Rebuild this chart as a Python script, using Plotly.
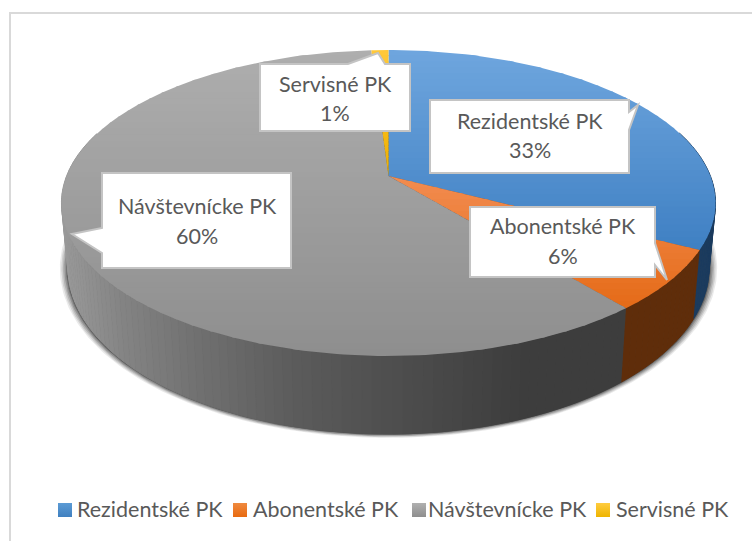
import numpy as np
import plotly.graph_objects as go

categories = ["Rezidentské PK", "Abonentské PK", "Návštevnícke PK", "Servisné PK"]
shares = [32.6, 6.4, 60.0, 1.0]
top_light = ["#6fa6de", "#f28c50", "#aeaeae", "#ffc93a"]
top_dark = ["#3f80c3", "#e56b18", "#8e8e8e", "#eeb000"]
legend_light = ["#5b9bd5", "#ef8a3f", "#b0b0b0", "#ffcc40"]
legend_dark = ["#4080c0", "#e86a10", "#8e8e8e", "#eeb400"]
side_flat = ["#1b3b5e", "#5f2d0a", None, "#8a6a00"]

# perspective model of the pie disc (pixel space)
CX, K = 388.5, 0.1765
TOP = dict(y0=176.0, a=148.2, b=321.9)
BOT = dict(y0=238.5, a=161.0, b=315.5)


def project(t, d, scale_x=1.0, scale_y=1.0):
    u, v = np.sin(t), np.cos(t)
    den = 1 + K * v
    return CX + d["b"] * scale_x * u / den, d["y0"] - d["a"] * scale_y * v / den


def hex2rgb(c):
    return np.array([int(c[i:i + 2], 16) for i in (1, 3, 5)], float)


def mix(c1, c2, f):
    f = float(np.clip(f, 0, 1))
    r = hex2rgb(c1) * (1 - f) + hex2rgb(c2) * f
    return "rgb(%d,%d,%d)" % tuple(r.round())


def clip(poly, y, keep_below):
    out = []
    n = len(poly)
    for i in range(n):
        p, q = poly[i], poly[(i + 1) % n]
        pin = p[1] >= y if keep_below else p[1] <= y
        qin = q[1] >= y if keep_below else q[1] <= y
        if pin:
            out.append(p)
        if pin != qin:
            f = (y - p[1]) / (q[1] - p[1])
            out.append((p[0] + f * (q[0] - p[0]), y))
    return out


def polygon(xs, ys, color, opacity=1.0, lw=1.0):
    return go.Scatter(x=list(xs), y=list(ys), mode="lines", fill="toself", fillcolor=color,
                      line=dict(color=color, width=lw), opacity=opacity,
                      hoverinfo="skip", showlegend=False)


fig = go.Figure()
edges = np.cumsum([0] + shares) / sum(shares) * 2 * np.pi

# soft shadow under the disc
tt = np.linspace(0, 2 * np.pi, 361)
for grow, op in [(8, .10), (6.5, .14), (5, .18), (3.5, .24), (2, .32), (1, .4)]:
    sx = (BOT["b"] + grow) / BOT["b"]
    sy = (BOT["a"] + grow * .4) / BOT["a"]
    xs, ys = project(tt, BOT, sx, sy)
    fig.add_trace(polygon(xs, ys, "#303030", op, 0))


def side_color(i, x):
    if side_flat[i]:
        return side_flat[i]
    stops_x = [62, 120, 200, 300, 400, 520, 800]
    stops_v = [0x9a, 0x84, 0x70, 0x5b, 0x4e, 0x3e, 0x3c]
    g = int(np.interp(x, stops_x, stops_v))
    return f"rgb({g},{g},{g})"


# side wall, back to front
quads = []
for i in range(len(shares)):
    n = max(2, int(np.degrees(edges[i + 1] - edges[i]) / 1.5))
    ts = np.linspace(edges[i], edges[i + 1], n + 1)
    for t0, t1 in zip(ts[:-1], ts[1:]):
        if np.cos((t0 + t1) / 2) < 0.3:
            quads.append((np.cos((t0 + t1) / 2), i, t0, t1))
for _, i, t0, t1 in sorted(quads, key=lambda q: -q[0]):
    ax, ay = project(np.array([t0, t1]), TOP)
    bx, by = project(np.array([t1, t0]), BOT)
    fig.add_trace(polygon(list(ax) + list(bx), list(ay) + list(by),
                          side_color(i, (ax[0] + ax[1]) / 2)))

# top face, with vertical gradient in thin horizontal bands
for i in range(len(shares)):
    ts = np.linspace(edges[i], edges[i + 1], max(6, int(np.degrees(edges[i + 1] - edges[i]))))
    px, py = project(ts, TOP)
    poly = [(CX, TOP["y0"])] + list(zip(px, py))
    ymin, ymax = min(p[1] for p in poly), max(p[1] for p in poly)
    steps = np.linspace(ymin, ymax, max(3, int((ymax - ymin) / 6)) + 1)
    for y0, y1 in zip(steps[:-1], steps[1:]):
        band = clip(clip(poly, y0 - 1.0, True), y1, False)
        if len(band) < 3:
            continue
        f = ((y0 + y1) / 2 - ymin) / (ymax - ymin)
        fig.add_trace(polygon([p[0] for p in band], [p[1] for p in band],
                              mix(top_light[i], top_dark[i], f), lw=0))

# data-label callouts
callout_paths = [
    [(430, 100), (629, 100), (629, 112), (638, 105), (629, 130), (629, 173), (430, 173)],
    [(470, 207), (655, 207), (655, 243), (667, 280), (655, 265), (655, 277), (470, 277)],
    [(102, 173), (291, 173), (291, 268), (102, 268), (102, 253), (72, 234), (102, 228)],
    [(260, 64), (348, 64), (378, 53), (385, 64), (410, 64), (410, 131), (260, 131)],
]
label_pos = [(530, 121, 150), (563, 226, 256), (197, 206, 236), (335, 84, 113)]
shapes = []
for path in callout_paths:
    d = "M" + " L".join(f"{x},{y}" for x, y in path) + " Z"
    shapes.append(dict(type="path", path=d, xref="x", yref="y", fillcolor="white",
                       line=dict(color="#c4c4c4", width=2), layer="above"))
FONT = "Lato, Carlito, 'Open Sans', sans-serif"
TXT = "#595959"
annotations = []
for cat, val, (x, y1, y2) in zip(categories, shares, label_pos):
    for txt, y in ((cat, y1), (f"{round(val)}%", y2)):
        annotations.append(dict(x=x, y=y, text=txt, showarrow=False, xref="x", yref="y",
                                font=dict(family=FONT, size=21.5, color=TXT)))

# legend row
leg_x = [65, 240, 419, 603]
leg_text_x = [75, 251, 426, 614]
for i, cat in enumerate(categories):
    fig.add_trace(go.Scatter(x=[leg_x[i]], y=[510], mode="markers", hoverinfo="skip", showlegend=False,
                             marker=dict(symbol="square", size=14, color=legend_light[i],
                                         gradient=dict(type="vertical", color=legend_dark[i]))))
    annotations.append(dict(x=leg_text_x[i], y=509, text=cat, showarrow=False, xanchor="left",
                            xref="x", yref="y", font=dict(family=FONT, size=21.5, color=TXT)))

# chart frame (left and top edges visible)
shapes.append(dict(type="line", x0=10, x1=10, y0=12, y1=541, xref="x", yref="y",
                   line=dict(color="#d9d9d9", width=2), layer="below"))
shapes.append(dict(type="line", x0=10, x1=752, y0=13, y1=13, xref="x", yref="y",
                   line=dict(color="#d9d9d9", width=2), layer="below"))

fig.update_layout(width=752, height=541, margin=dict(l=0, r=0, t=0, b=0),
                  paper_bgcolor="white", plot_bgcolor="white", showlegend=False,
                  xaxis=dict(range=[0, 752], visible=False, fixedrange=True),
                  yaxis=dict(range=[541, 0], visible=False, fixedrange=True),
                  shapes=shapes, annotations=annotations)
fig.write_html("out.html", config=dict(displayModeBar=False),
               post_script="document.body.style.margin='0';document.body.style.overflow='hidden';")
